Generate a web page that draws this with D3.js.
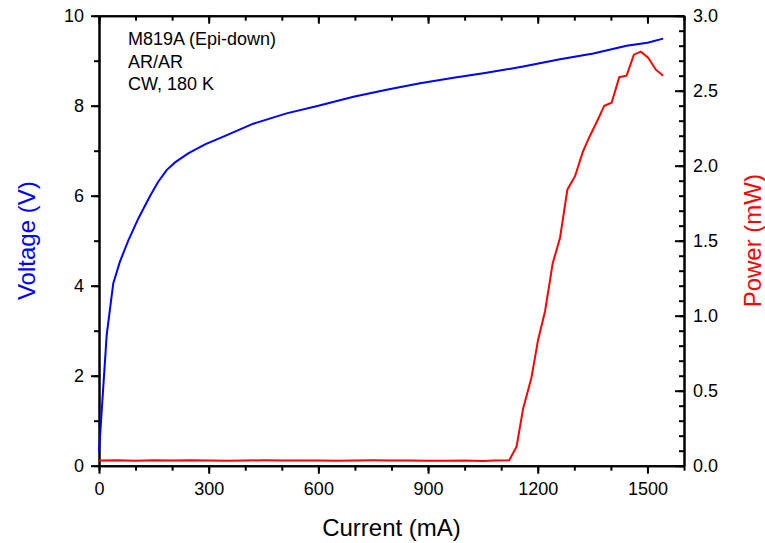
<!DOCTYPE html>
<html>
<head>
<meta charset="utf-8">
<script src="https://cdn.jsdelivr.net/npm/d3@7"></script>
<style>
  body { margin: 0; background: #fff; }
  text { font-family: "Liberation Sans", Arial, sans-serif; }
</style>
</head>
<body>
<script>
// voltage curve (mA, V)
const vCurrent = [0, 21, 39, 57, 80, 108, 140, 162, 185, 208, 244, 290, 345, 422, 513, 600, 696, 790, 878, 970, 1060, 1160, 1261, 1352, 1443, 1500, 1543];
const voltage  = [0.3, 2.9, 4.05, 4.53, 5.0, 5.5, 6.0, 6.31, 6.57, 6.74, 6.94, 7.14, 7.33, 7.6, 7.83, 8.0, 8.2, 8.36, 8.5, 8.62, 8.73, 8.87, 9.03, 9.16, 9.33, 9.4, 9.49];

// power curve (mA, mW)
const pCurrent = [0, 50, 100, 150, 200, 250, 300, 350, 400, 450, 500, 550, 600, 650, 700, 750, 800, 850, 900, 950, 1000, 1050, 1080, 1122,
  1142, 1160, 1183, 1201, 1220, 1241, 1261, 1281, 1302, 1323, 1341, 1361, 1382, 1402, 1423, 1443, 1463, 1482, 1502, 1523, 1543];
const power = [0.035, 0.037, 0.033, 0.037, 0.034, 0.036, 0.034, 0.033, 0.035, 0.036, 0.035, 0.034, 0.035, 0.033, 0.035, 0.036, 0.035, 0.034, 0.033, 0.033, 0.034, 0.032, 0.034, 0.036,
  0.127, 0.38, 0.59, 0.84, 1.03, 1.35, 1.52, 1.84, 1.93, 2.09, 2.19, 2.29, 2.40, 2.42, 2.59, 2.60, 2.74, 2.76, 2.72, 2.64, 2.60];

const xMajor = [0, 300, 600, 900, 1200, 1500];
const vMajor = [0, 2, 4, 6, 8, 10];
const pMajor = [0, 0.5, 1.0, 1.5, 2.0, 2.5, 3.0];
const notes = ["M819A (Epi-down)", "AR/AR", "CW, 180 K"];

const width = 765, height = 543;
const plotLeft = 99, plotRight = 684, plotTop = 15.7, plotBottom = 465.7;

const svg = d3.select("body").append("svg")
  .attr("width", width)
  .attr("height", height);

const x = d3.scaleLinear().domain([0, 1600]).range([plotLeft, plotRight]);
const yV = d3.scaleLinear().domain([0, 10]).range([plotBottom, plotTop]);
const yP = d3.scaleLinear().domain([0, 3]).range([plotBottom, plotTop]);

function style(g) {
  g.select(".domain").attr("stroke", "#000").attr("stroke-width", 2);
  g.selectAll(".tick line").attr("stroke", "#000").attr("stroke-width", 2);
  g.selectAll(".tick text").attr("fill", "#000").attr("font-size", 18)
    .attr("font-family", "Liberation Sans, Arial, sans-serif");
}

// minor ticks first, majors on top
svg.append("g").attr("transform", `translate(0,${plotBottom})`)
  .call(d3.axisBottom(x).tickValues(d3.range(0, 1601, 100)).tickSize(5).tickSizeOuter(0).tickFormat(""))
  .call(style);
svg.append("g").attr("transform", `translate(0,${plotBottom})`)
  .call(d3.axisBottom(x).tickValues(xMajor).tickSize(8).tickSizeOuter(0).tickPadding(9).tickFormat(d3.format("d")))
  .call(style);

svg.append("g").attr("transform", `translate(0,${plotTop})`)
  .call(d3.axisTop(x).tickValues(d3.range(0, 1601, 100)).tickSize(-5).tickSizeOuter(0).tickFormat(""))
  .call(style);
svg.append("g").attr("transform", `translate(0,${plotTop})`)
  .call(d3.axisTop(x).tickValues(xMajor).tickSize(-8).tickSizeOuter(0).tickFormat(""))
  .call(style);

svg.append("g").attr("transform", `translate(${plotLeft},0)`)
  .call(d3.axisLeft(yV).tickValues(d3.range(0, 11, 1)).tickSize(5).tickSizeOuter(0).tickFormat(""))
  .call(style);
svg.append("g").attr("transform", `translate(${plotLeft},0)`)
  .call(d3.axisLeft(yV).tickValues(vMajor).tickSize(8).tickSizeOuter(0).tickPadding(7).tickFormat(d3.format("d")))
  .call(style);

svg.append("g").attr("transform", `translate(${plotRight},0)`)
  .call(d3.axisRight(yP).tickValues(d3.range(0, 31, 1).map(d => d / 10)).tickSize(-5).tickSizeOuter(0).tickFormat(""))
  .call(style);
svg.append("g").attr("transform", `translate(${plotRight},0)`)
  .call(d3.axisRight(yP).tickValues(pMajor).tickSize(-9).tickSizeOuter(0).tickPadding(9).tickFormat(d3.format(".1f")))
  .call(style);

// curves
const vLine = d3.line().x(d => x(d[0])).y(d => yV(d[1]));
const pLine = d3.line().x(d => x(d[0])).y(d => yP(d[1]));

svg.append("path")
  .datum(pCurrent.map((c, i) => [c, power[i]]))
  .attr("d", pLine)
  .attr("fill", "none")
  .attr("stroke", "#ff0000")
  .attr("stroke-width", 2);

svg.append("path")
  .datum(vCurrent.map((c, i) => [c, voltage[i]]))
  .attr("d", vLine)
  .attr("fill", "none")
  .attr("stroke", "#0000ff")
  .attr("stroke-width", 2);

// annotation
svg.selectAll(".note")
  .data(notes)
  .join("text")
  .attr("class", "note")
  .attr("x", 128)
  .attr("y", (d, i) => 45 + i * 22.5)
  .attr("font-size", 18)
  .text(d => d);

// axis titles
svg.append("text")
  .attr("x", (plotLeft + plotRight) / 2)
  .attr("y", 536)
  .attr("text-anchor", "middle")
  .attr("font-size", 24)
  .text("Current (mA)");

svg.append("text")
  .attr("transform", `translate(35,${(plotTop + plotBottom) / 2}) rotate(-90)`)
  .attr("text-anchor", "middle")
  .attr("font-size", 24)
  .attr("fill", "#0000ff")
  .text("Voltage (V)");

svg.append("text")
  .attr("transform", `translate(761,${(plotTop + plotBottom) / 2}) rotate(-90)`)
  .attr("text-anchor", "middle")
  .attr("font-size", 24)
  .attr("fill", "#ff0000")
  .text("Power (mW)");
</script>
</body>
</html>
